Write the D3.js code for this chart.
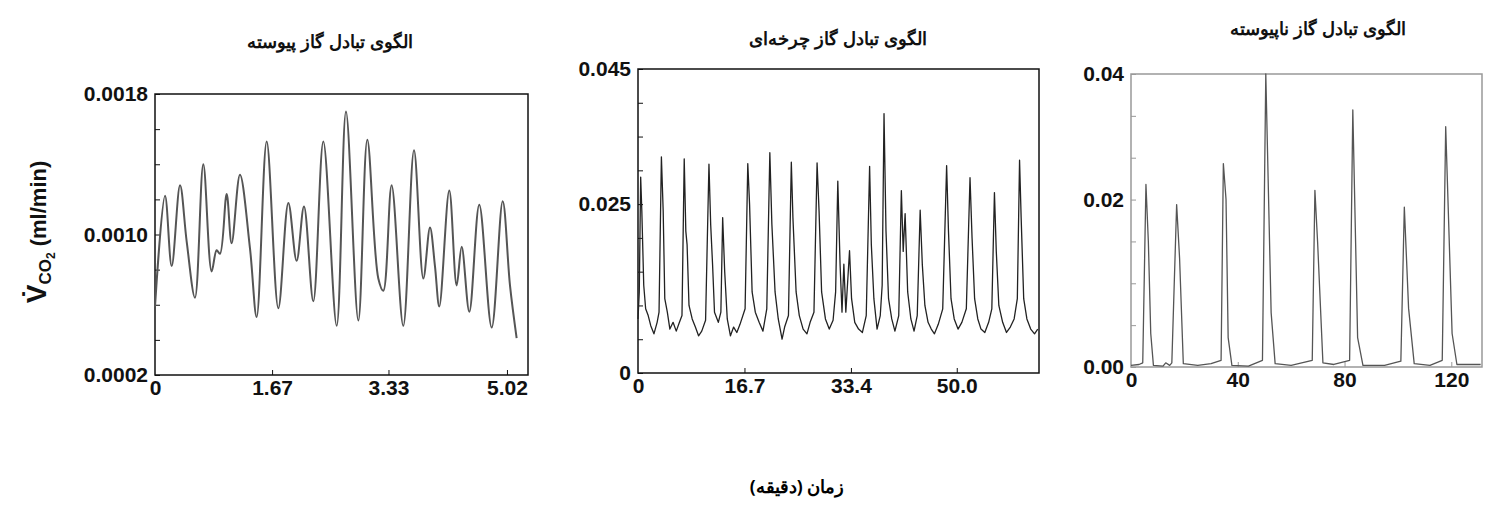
<!DOCTYPE html><html><head><meta charset="utf-8"><script src="https://cdn.jsdelivr.net/npm/d3@7"></script>
<style>body{margin:0;background:#fff}</style></head><body><svg id="c" width="1500" height="519"></svg>
<script>
const titles=["الگوی تبادل گاز پیوسته","الگوی تبادل گاز چرخه‌ای","الگوی تبادل گاز ناپیوسته"];
const xLabel="زمان (دقیقه)";
const p1Ticks=[0,1.67,3.33,5.02], p1YTicks=[0.0002,0.0010,0.0018];
const p2Ticks=[0,16.7,33.4,50.0], p2YTicks=[0,0.025,0.045];
const p3Ticks=[0,40,80,120], p3YTicks=[0,0.02,0.035];
const continuous=[[0,0.00059],[0.143,0.00122],[0.238,0.00082],[0.357,0.00128],[0.452,0.00096],[0.570,0.00064],[0.689,0.00140],[0.808,0.00079],[0.879,0.00091],[0.927,0.00089],[1.022,0.00123],[1.093,0.00095],[1.212,0.00134],[1.355,0.00092],[1.450,0.00053],[1.593,0.00153],[1.759,0.00058],[1.902,0.00118],[2.020,0.00085],[2.125,0.00116],[2.258,0.00062],[2.401,0.00153],[2.591,0.00048],[2.724,0.00170],[2.900,0.00051],[3.028,0.00154],[3.185,0.00075],[3.257,0.00068],[3.375,0.00128],[3.541,0.00048],[3.694,0.00148],[3.827,0.00075],[3.922,0.00104],[3.993,0.00082],[4.055,0.00059],[4.197,0.00125],[4.302,0.00071],[4.374,0.00093],[4.483,0.00056],[4.625,0.00117],[4.802,0.00047],[4.959,0.00119],[5.063,0.00071],[5.158,0.00041]];
const cyclic=[[0,0.008],[0.2,0.012],[0.42,0.0290],[0.6,0.024],[0.9,0.013],[1.2,0.0095],[1.6,0.0085],[2.0,0.007],[2.5,0.0058],[3.0,0.0075],[3.3,0.009],[3.67,0.032],[3.95,0.024],[4.2,0.011],[4.6,0.009],[5.0,0.0065],[5.5,0.0075],[6.0,0.0062],[6.5,0.0075],[6.9,0.0085],[7.25,0.0317],[7.5,0.021],[7.7,0.019],[8.0,0.010],[8.5,0.008],[9.0,0.0068],[9.5,0.0055],[10.0,0.0062],[10.6,0.0078],[11.13,0.0309],[11.4,0.022],[11.7,0.016],[12.0,0.009],[12.6,0.0075],[13.0,0.009],[13.28,0.0230],[13.6,0.015],[14.0,0.008],[14.5,0.0055],[15.0,0.0068],[15.5,0.006],[16.0,0.0072],[16.8,0.0095],[17.22,0.0310],[17.5,0.025],[17.9,0.012],[18.4,0.009],[19.0,0.0075],[19.6,0.0062],[20.2,0.0095],[20.68,0.0326],[21.0,0.022],[21.5,0.012],[22.0,0.008],[22.6,0.0050],[23.0,0.0068],[23.6,0.0085],[24.05,0.0312],[24.3,0.023],[24.8,0.012],[25.3,0.0085],[25.9,0.0065],[26.5,0.0058],[27.0,0.0075],[27.6,0.009],[28.09,0.0311],[28.4,0.024],[28.8,0.012],[29.4,0.008],[30.0,0.0065],[30.6,0.0078],[31.0,0.012],[31.34,0.0284],[31.7,0.016],[32.0,0.009],[32.29,0.0161],[32.6,0.009],[33.18,0.0181],[33.5,0.011],[34.0,0.0075],[34.6,0.0065],[35.2,0.006],[35.8,0.0085],[36.33,0.0306],[36.6,0.019],[37.0,0.011],[37.5,0.0065],[38.0,0.0085],[38.3,0.013],[38.59,0.0384],[38.9,0.021],[39.3,0.011],[39.8,0.008],[40.3,0.0062],[40.9,0.0085],[41.31,0.0270],[41.6,0.018],[41.9,0.0236],[42.3,0.012],[42.8,0.008],[43.3,0.0062],[43.8,0.0085],[44.26,0.0241],[44.6,0.016],[45.0,0.010],[45.5,0.0075],[46.0,0.0065],[46.5,0.0058],[47.1,0.0072],[47.8,0.0095],[48.41,0.0307],[48.7,0.021],[49.1,0.011],[49.6,0.008],[50.2,0.0065],[50.8,0.0075],[51.5,0.0095],[52.08,0.0289],[52.4,0.020],[52.8,0.011],[53.3,0.0080],[53.8,0.0065],[54.4,0.006],[55.0,0.0075],[55.5,0.0095],[55.91,0.0267],[56.2,0.018],[56.6,0.010],[57.2,0.0075],[57.8,0.006],[58.4,0.0068],[59.0,0.008],[59.5,0.011],[59.85,0.0315],[60.1,0.023],[60.5,0.011],[61.0,0.008],[61.6,0.0065],[62.2,0.0058],[62.7,0.0065]];
const discontinuous=[[0,0.0002],[3,0.0003],[4.4,0.0005],[5.6,0.0218],[6.5,0.0150],[7.4,0.004],[8.4,0.0002],[12,0.0001],[13,0.0005],[14.5,0.0002],[15.3,0.0005],[17.1,0.0194],[18.2,0.0130],[19.6,0.0004],[25,0.0002],[30,0.0004],[33.75,0.0008],[34.6,0.0243],[35.6,0.020],[36.4,0.0035],[37.8,0.0002],[44,0.0001],[49.25,0.0008],[50.5,0.035],[52.5,0.0065],[54,0.0004],[60,0.0002],[67.9,0.0008],[68.9,0.0211],[69.9,0.015],[71.9,0.0005],[76,0.0003],[81.9,0.0008],[83.1,0.0307],[84.9,0.0035],[86.9,0.0002],[95,0.0002],[101.1,0.0007],[102.4,0.0191],[104,0.007],[106.1,0.0004],[112,0.0002],[116.6,0.0008],[117.9,0.0287],[120.3,0.004],[122.1,0.0003],[131,0.0003]];

const svg=d3.select("#c");
const panels=[
 {data:continuous,x:[155,528],y:[94,375],xd:[0,5.32],yd:[0.0002,0.0018],xt:p1Ticks,yt:p1YTicks,fmt:d3.format(".4f"),xf:d=>d===0?"0":d3.format(".2f")(d),minor:d3.range(0.0002,0.00181,0.0002),frame:"#111",line:"#555",lw:2,curve:d3.curveCatmullRom,title:[330,48]},
 {data:cyclic,x:[638,1039],y:[69,373],xd:[0,62.9],yd:[0,0.045],xt:p2Ticks,yt:p2YTicks,fmt:d=>d===0?"0":d3.format(".3f")(d),xf:d=>d===0?"0":d3.format(".1f")(d),minor:d3.range(0,0.0451,0.005),frame:"#111",line:"#222",lw:1.3,curve:d3.curveLinear,title:[838,45]},
 {data:discontinuous,x:[1131,1482],y:[74,367],xd:[0,131.5],yd:[0,0.035],xt:p3Ticks,yt:p3YTicks,fmt:d3.format(".2f"),xf:d3.format("d"),minor:d3.range(0,0.0351,0.005),frame:"#999",line:"#555",lw:1.3,curve:d3.curveLinear,title:[1318,35]}
];
panels.forEach((p,i)=>{
 const x=d3.scaleLinear().domain(p.xd).range(p.x), y=d3.scaleLinear().domain(p.yd).range([p.y[1],p.y[0]]);
 const g=svg.append("g");
 g.append("rect").attr("x",p.x[0]).attr("y",p.y[0]).attr("width",p.x[1]-p.x[0]).attr("height",p.y[1]-p.y[0]).attr("fill","none").attr("stroke",p.frame).attr("stroke-width",1.5);
 g.append("g").attr("transform",`translate(${p.x[0]},0)`).call(d3.axisRight(y).tickValues(p.minor).tickSize(5).tickFormat("")).call(a=>a.select(".domain").remove()).selectAll("line").attr("stroke",p.frame);
 g.append("g").attr("transform",`translate(0,${p.y[1]})`).call(d3.axisTop(x).tickValues(p.xt.slice(1)).tickSize(5).tickFormat("")).call(a=>a.select(".domain").remove()).selectAll("line").attr("stroke",p.frame);
 const ya=g.append("g").attr("transform",`translate(${p.x[0]-4},0)`).call(d3.axisLeft(y).tickValues(p.yt).tickSize(0).tickFormat(p.fmt));
 ya.select(".domain").remove();
 ya.selectAll("text").attr("font-family","Liberation Sans").attr("font-weight","bold").attr("font-size",21).attr("fill","#111");
 const xa=g.append("g").attr("transform",`translate(0,${p.y[1]+2})`).call(d3.axisBottom(x).tickValues(p.xt).tickSize(0).tickFormat(p.xf));
 xa.select(".domain").remove();
 xa.selectAll("text").attr("font-family","Liberation Sans").attr("font-weight","bold").attr("font-size",21).attr("fill","#111");
 g.append("path").datum(p.data).attr("fill","none").attr("stroke",p.line).attr("stroke-width",p.lw).attr("stroke-linejoin","round")
  .attr("d",d3.line().x(d=>x(d[0])).y(d=>y(d[1])).curve(p.curve));
 svg.append("text").attr("x",p.title[0]).attr("y",p.title[1]).attr("text-anchor","middle").attr("direction","rtl").attr("font-family","Noto Sans").attr("font-weight","bold").attr("font-size",18).attr("fill","#111").text(titles[i]);
});
svg.append("text").attr("x",797).attr("y",493).attr("text-anchor","middle").attr("direction","rtl").attr("font-family","Noto Sans").attr("font-weight","bold").attr("font-size",17.5).text(xLabel);
const yl=svg.append("text").attr("transform","translate(46,232) rotate(-90)").attr("text-anchor","middle").attr("font-family","Liberation Sans").attr("font-weight","bold").attr("fill","#111");
yl.append("tspan").attr("font-size",28).text("V\u0307");
yl.append("tspan").attr("font-size",17).attr("dy",5).text("CO");
yl.append("tspan").attr("font-size",12).attr("dy",4).text("2");
yl.append("tspan").attr("font-size",22).attr("dy",-9).text(" (ml/min)");
</script></body></html>
